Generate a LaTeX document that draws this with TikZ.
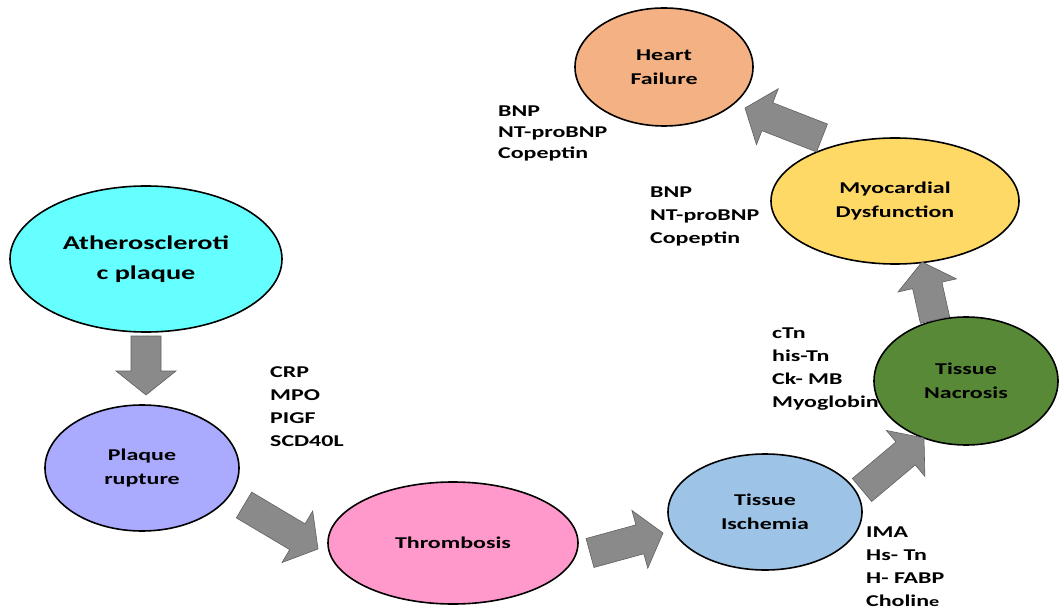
\documentclass[tikz,border=0pt]{standalone}
\usepackage{fontspec}
\usetikzlibrary{shapes.geometric,calc}
\newfontfamily\figfont{Carlito}[FakeStretch=1.45]
\definecolor{plaquecyan}{RGB}{102,255,255}
\definecolor{rupturelav}{RGB}{170,170,255}
\definecolor{thrombpink}{RGB}{255,153,204}
\definecolor{ischblue}{RGB}{157,195,230}
\definecolor{necgreen}{RGB}{88,137,54}
\definecolor{dysfyellow}{RGB}{255,217,102}
\definecolor{hforange}{RGB}{244,177,131}
\definecolor{arrowgray}{RGB}{138,138,138}
\definecolor{arrowedge}{RGB}{96,96,96}
% block arrow from #1 to #2
\newcommand{\flowarrow}[2]{%
  \coordinate (fa-h) at ($(#2)!24pt!(#1)$);
  \draw[flow] ($(#1)!15pt!90:(#2)$) -- ($(fa-h)!15pt!-90:(#1)$) -- ($(fa-h)!30pt!-90:(#1)$)
    -- (#2) -- ($(fa-h)!30pt!90:(#1)$) -- ($(fa-h)!15pt!90:(#1)$) -- ($(#1)!15pt!-90:(#2)$) -- cycle;}
\begin{document}
\begin{tikzpicture}[x=1pt,y=-1pt,
  stage/.style={ellipse,draw=black,line width=1.6pt,inner sep=0pt,align=center,
    font=\figfont\bfseries\fontsize{16.5}{24}\selectfont},
  marker/.style={anchor=base west,inner sep=0pt,align=left,
    font=\figfont\bfseries\fontsize{16.5}{23}\selectfont},
  flow/.style={fill=arrowgray,draw=arrowedge,line width=0.6pt,line join=miter}]
\useasboundingbox (0,0) rectangle (1060,612);
\fill[white] (0,0) rectangle (1060,612);
% stages
\node[stage,fill=plaquecyan,minimum width=272pt,minimum height=146pt,
  font=\figfont\bfseries\fontsize{19.5}{30}\selectfont] (athero) at (146,259) {Atheroscleroti\\c plaque};
\node[stage,fill=rupturelav,minimum width=194pt,minimum height=126pt] (rupture) at (142,468) {Plaque\\rupture};
\node[stage,fill=thrombpink,minimum width=250pt,minimum height=122pt] (thromb) at (453,543) {Thrombosis};
\node[stage,fill=ischblue,minimum width=194pt,minimum height=116pt] (ischemia) at (765,512) {Tissue\\Ischemia};
\node[stage,fill=necgreen,minimum width=184pt,minimum height=128pt] (necrosis) at (966,381) {Tissue\\Nacrosis};
\node[stage,fill=dysfyellow,minimum width=248pt,minimum height=126pt] (dysf) at (895,201) {Myocardial\\Dysfunction};
\node[stage,fill=hforange,minimum width=178pt,minimum height=118pt] (hf) at (664,67) {Heart\\Failure};
% arrows
\coordinate (a1s) at (146,336); \coordinate (a1e) at (146,395);
\coordinate (a2s) at (244,505); \coordinate (a2e) at (318,549);
\coordinate (a3s) at (590,553); \coordinate (a3e) at (663,533);
\coordinate (a4s) at (862,490); \coordinate (a4e) at (924,438);
\coordinate (a5s) at (935,320); \coordinate (a5e) at (922,262);
\coordinate (a6s) at (822,138); \coordinate (a6e) at (745,108);
\flowarrow{a1s}{a1e}
\flowarrow{a2s}{a2e}
\flowarrow{a3s}{a3e}
\flowarrow{a4s}{a4e}
\flowarrow{a5s}{a5e}
\flowarrow{a6s}{a6e}
% biomarkers (anchored at the last line's baseline)
\node[marker] (mk-rupture) at (270,446) {CRP\\MPO\\PIGF\\SCD40L};
\node[marker,font=\figfont\bfseries\fontsize{16.5}{21}\selectfont] (mk-hf) at (498,159) {BNP\\NT-proBNP\\Copeptin};
\node[marker] (mk-dysf) at (650,244) {BNP\\NT-proBNP\\Copeptin};
\node[marker] (mk-necrosis) at (772,407) {cTn\\his-Tn\\Ck- MB\\Myoglobin};
\node[marker] (mk-ischemia) at (866,606) {IMA\\Hs- Tn\\H- FABP\\Cholin{\fontsize{14}{14}\selectfont e}};
\end{tikzpicture}
\end{document}
